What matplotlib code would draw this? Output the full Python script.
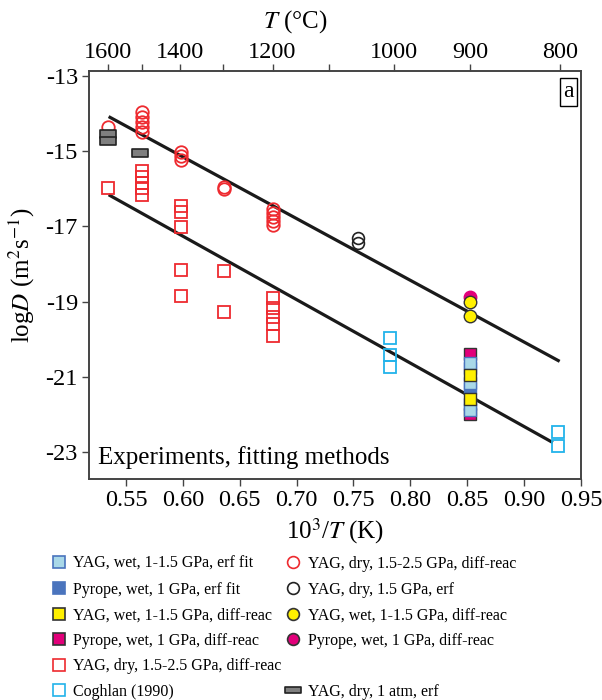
import matplotlib
matplotlib.use("Agg")
import matplotlib.pyplot as plt
from matplotlib.lines import Line2D
from matplotlib.path import Path
import numpy as np

plt.rcParams['font.family'] = ['Liberation Serif', 'DejaVu Serif']
plt.rcParams['mathtext.fontset'] = 'stix'

# ---- data (10^3/T, logD) ----
red_circ_x = [0.534, 0.564, 0.564, 0.564, 0.564, 0.564, 0.598, 0.598, 0.598,
              0.636, 0.636, 0.679, 0.679, 0.679, 0.679, 0.679]
red_circ_y = [-14.36, -13.97, -14.10, -14.23, -14.36, -14.50, -15.01, -15.13, -15.24,
              -15.94, -16.01, -16.55, -16.65, -16.74, -16.85, -16.96]

red_sq_x = [0.534, 0.564, 0.564, 0.564, 0.564, 0.564, 0.598, 0.598, 0.598, 0.598, 0.598,
            0.636, 0.636, 0.679, 0.679, 0.679, 0.679, 0.679]
red_sq_y = [-15.97, -15.54, -15.68, -15.85, -15.99, -16.17, -16.45, -16.61, -17.02, -18.16, -18.85,
            -18.18, -19.29, -18.91, -19.18, -19.40, -19.60, -19.91]

black_circ_x = [0.754, 0.754]
black_circ_y = [-17.32, -17.45]

yag_wet_circ_x = [0.852, 0.852]
yag_wet_circ_y = [-19.00, -19.38]
pyr_wet_circ_x = [0.852]
pyr_wet_circ_y = [-18.88]

pyr_erf_x = [0.852, 0.852, 0.852]
pyr_erf_y = [-20.78, -21.30, -21.72]
pyr_dr_x = [0.852, 0.852]
pyr_dr_y = [-20.40, -22.00]
yag_erf_x = [0.852, 0.852, 0.852]
yag_erf_y = [-20.64, -21.16, -21.88]
yag_dr_x = [0.852, 0.852]
yag_dr_y = [-20.95, -21.60]

coghlan_x = [0.7825, 0.7825, 0.7825, 0.930, 0.930]
coghlan_y = [-19.98, -20.42, -20.75, -22.46, -22.83]

atm_x = [0.534, 0.534, 0.562]
atm_y = [-14.54, -14.72, -15.04]

fit_hi_x = [0.536, 0.930]
fit_hi_y = [-14.10, -20.57]
fit_lo_x = [0.536, 0.924]
fit_lo_y = [-16.18, -22.73]

top_T = [1600, 1400, 1200, 1000, 900, 800]
top_T_minor = [1500, 1300, 1100]

# colours
RED = '#ee2a2f'
CYAN = '#22b3ea'
MAG = '#e2007a'
YEL = '#fff000'
LBLUE = '#a9d8e8'
BLUE = '#4a74bd'
GREY = '#7f7f7f'
EDGE = '#333333'

rect = Path([(-1, -0.45), (1, -0.45), (1, 0.45), (-1, 0.45), (-1, -0.45)],
            [Path.MOVETO, Path.LINETO, Path.LINETO, Path.LINETO, Path.CLOSEPOLY])

fig = plt.figure(figsize=(6.02, 7.0), dpi=100)
ax = fig.add_axes([89 / 602, 1 - 479 / 700, 492 / 602, 408 / 700])

ms = 8.5
ax.plot(fit_hi_x, fit_hi_y, color='#1a1a1a', lw=2.3, zorder=2)
ax.plot(fit_lo_x, fit_lo_y, color='#1a1a1a', lw=2.3, zorder=2)

ax.plot(red_sq_x, red_sq_y, 's', ms=ms, mfc='none', mec=RED, mew=1.3, zorder=3)
ax.plot(red_circ_x, red_circ_y, 'o', ms=ms + 0.5, mfc='none', mec=RED, mew=1.3, zorder=3)
ax.plot(black_circ_x, black_circ_y, 'o', ms=ms, mfc='none', mec='#222222', mew=1.2, zorder=3)
ax.plot(coghlan_x, coghlan_y, 's', ms=ms, mfc='none', mec=CYAN, mew=1.3, zorder=3)
ax.plot(pyr_wet_circ_x, pyr_wet_circ_y, 'o', ms=ms + 0.5, mfc=MAG, mec=MAG, mew=1, zorder=3)
ax.plot(yag_wet_circ_x, yag_wet_circ_y, 'o', ms=ms + 0.5, mfc=YEL, mec=EDGE, mew=1, zorder=4)
ax.plot(pyr_erf_x, pyr_erf_y, 's', ms=ms, mfc=BLUE, mec=BLUE, mew=1, zorder=3)
ax.plot(pyr_dr_x, pyr_dr_y, 's', ms=ms, mfc=MAG, mec=EDGE, mew=1, zorder=3)
ax.plot(yag_erf_x, yag_erf_y, 's', ms=ms, mfc=LBLUE, mec=BLUE, mew=1, zorder=4)
ax.plot(yag_dr_x, yag_dr_y, 's', ms=ms, mfc=YEL, mec=EDGE, mew=1, zorder=5)
ax.plot(atm_x, atm_y, marker=rect, ls='none', ms=11.5, mfc=GREY, mec='#222222', mew=1.2, zorder=5)

ax.set_xlim(0.5175, 0.95)
ax.set_ylim(-23.72, -12.867)
ax.set_xticks([0.55, 0.60, 0.65, 0.70, 0.75, 0.80, 0.85, 0.90, 0.95])
ax.set_xticklabels(['0.55', '0.60', '0.65', '0.70', '0.75', '0.80', '0.85', '0.90', '0.95'])
ax.set_yticks([-13, -15, -17, -19, -21, -23])
ax.set_yticklabels(['-13', '-15', '-17', '-19', '-21', '-23'])
ax.tick_params(labelsize=17.5, direction='out', length=5, width=1, color='#444444', pad=3)
for s in ax.spines.values():
    s.set_color('#444444')
    s.set_linewidth(1.2)

ax.set_xlabel('10$^3$/$T$ (K)', fontsize=18, labelpad=4)
ax.set_ylabel('log$D$ (m$^2$s$^{-1}$)', fontsize=18, labelpad=6)

# top temperature axis
ax2 = ax.twiny()
ax2.set_xlim(ax.get_xlim())
ax2.set_xticks([1000 / (t + 273.15) for t in top_T])
ax2.set_xticklabels([str(t) for t in top_T])
ax2.set_xticks([1000 / (t + 273.15) for t in top_T_minor], minor=True)
ax2.tick_params(which='both', labelsize=17.5, direction='out', length=5, width=1,
                color='#444444', pad=1)
for s in ax2.spines.values():
    s.set_color('#444444')
    s.set_linewidth(1.2)
fig.text(295 / 602, 1 - 22 / 700, '$T$ (°C)', fontsize=18, ha='center', va='center')

ax.text(0.018, 0.052, 'Experiments, fitting methods', transform=ax.transAxes,
        fontsize=18, va='center', ha='left')
ax.text(0.985, 0.975, 'a', transform=ax.transAxes, fontsize=17, ha='right', va='top',
        bbox=dict(boxstyle='square,pad=0.15', fc='white', ec='black', lw=1))

# legend
def sq(fc, ec):
    return Line2D([], [], marker='s', ls='none', ms=8, mfc=fc, mec=ec, mew=1.2)

def ci(fc, ec):
    return Line2D([], [], marker='o', ls='none', ms=8.5, mfc=fc, mec=ec, mew=1.2)

handles = [sq(LBLUE, BLUE), sq(BLUE, BLUE), sq(YEL, EDGE), sq(MAG, EDGE), sq('white', RED), sq('white', CYAN),
           ci('white', RED), ci('white', '#222222'), ci(YEL, EDGE), ci(MAG, EDGE),
           Line2D([], [], ls='none'),
           Line2D([], [], marker=rect, ls='none', ms=11, mfc=GREY, mec='#222222', mew=1.2)]
labels = ['YAG, wet, 1-1.5 GPa, erf fit', 'Pyrope, wet, 1 GPa, erf fit', 'YAG, wet, 1-1.5 GPa, diff-reac',
          'Pyrope, wet, 1 GPa, diff-reac', 'YAG, dry, 1.5-2.5 GPa, diff-reac', 'Coghlan (1990)',
          'YAG, dry, 1.5-2.5 GPa, diff-reac', 'YAG, dry, 1.5 GPa, erf', 'YAG, wet, 1-1.5 GPa, diff-reac',
          'Pyrope, wet, 1 GPa, diff-reac', '', 'YAG, dry, 1 atm, erf']
fig.legend(handles, labels, ncol=2, loc='upper left', bbox_to_anchor=(51 / 602, 1 - 556 / 700),
           frameon=False, fontsize=11.5, handlelength=1.0, handletextpad=0.4,
           columnspacing=0.22, labelspacing=0.6, borderpad=0, borderaxespad=0)

fig.savefig('out.png', dpi=100)
